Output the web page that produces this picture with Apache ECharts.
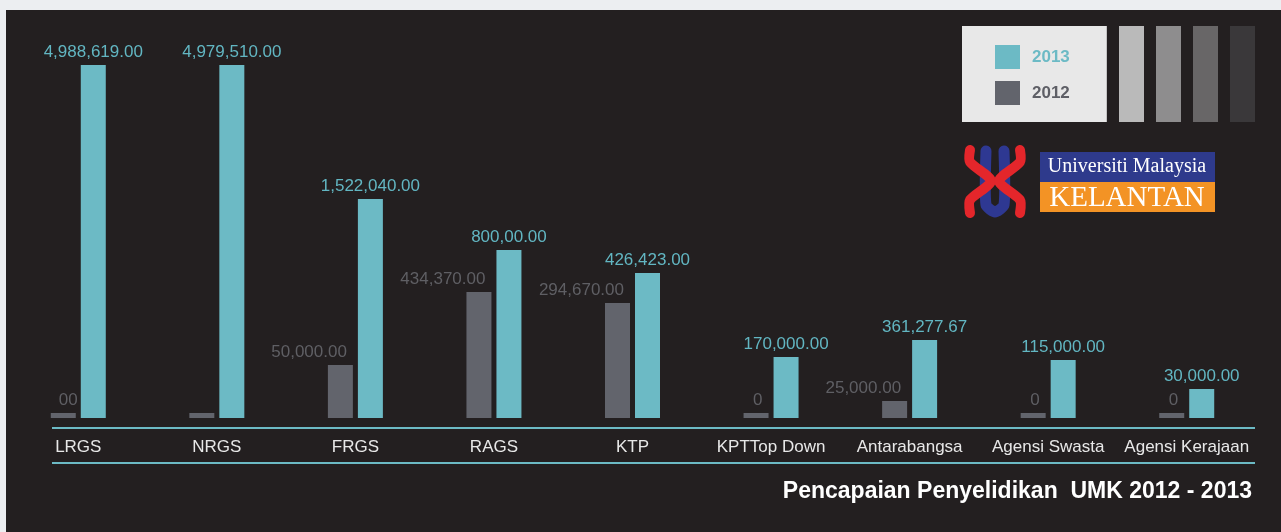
<!DOCTYPE html>
<html>
<head>
<meta charset="utf-8">
<script src="https://cdn.jsdelivr.net/npm/echarts@6/dist/echarts.min.js"></script>
<style>
  html, body { margin: 0; padding: 0; background: #eceef1; }
  #chart { width: 1281px; height: 532px; }
</style>
</head>
<body>
<div id="chart"></div>
<script>
const categories = ['LRGS', 'NRGS', 'FRGS', 'RAGS', 'KTP', 'KPTTop Down', 'Antarabangsa', 'Agensi Swasta', 'Agensi Kerajaan']

// amounts as printed on the picture (RM)
const label2013 = ['4,988,619.00', '4,979,510.00', '1,522,040.00', '800,00.00', '426,423.00', '170,000.00', '361,277.67', '115,000.00', '30,000.00']
const label2012 = ['00', '', '50,000.00', '434,370.00', '294,670.00', '0', '25,000.00', '0', '0']

// bar heights as drawn in the picture (the original is not to scale)
const bar2013 = [353, 353, 219, 168, 145, 61, 78, 58, 29]
const bar2012 = [5, 5, 53, 126, 115, 5, 17, 5, 5]

const teal = '#6cbac5'
const grey = '#62646c'

const chart = echarts.init(document.getElementById('chart'))

const option = {
  backgroundColor: '#eceef1',
  animation: false,
  title: {
    text: 'Pencapaian Penyelidikan  UMK 2012 - 2013',
    right: 29,
    top: 480,
    padding: 0,
    textStyle: { color: '#ffffff', fontSize: 23, fontWeight: 'bold', fontFamily: 'Liberation Sans, Arial, sans-serif' }
  },
  legend: {
    orient: 'vertical',
    left: 962,
    top: 26,
    backgroundColor: '#e8e8e8',
    padding: [19, 37, 17, 33],
    itemWidth: 25,
    itemHeight: 24,
    itemGap: 12,
    icon: 'rect',
    selectedMode: false,
    textStyle: { fontSize: 17, fontWeight: 'bold', fontFamily: 'Liberation Sans, Arial, sans-serif', padding: [0, 0, 0, 7] },
    data: [
      { name: '2013', textStyle: { color: teal } },
      { name: '2012', textStyle: { color: '#5e5f66' } }
    ]
  },
  grid: { left: 9, right: 25, top: 18, bottom: 114 },
  xAxis: {
    type: 'category',
    data: categories,
    axisLine: { show: false },
    axisTick: { show: false },
    axisLabel: {
      color: '#e8e8e8',
      fontSize: 17,
      fontFamily: 'Liberation Sans, Arial, sans-serif',
      margin: 21,
      interval: 0
    }
  },
  yAxis: {
    type: 'value',
    min: 0,
    max: 400,
    show: false,
    splitLine: { show: false }
  },
  graphic: [
    { type: 'rect', z: -10, silent: true, shape: { x: 6, y: 10, width: 1275, height: 522 }, style: { fill: '#231f20' } },
    { type: 'line', silent: true, shape: { x1: 52, y1: 428, x2: 1255, y2: 428 }, style: { stroke: teal, lineWidth: 2 } },
    { type: 'line', silent: true, shape: { x1: 52, y1: 463, x2: 1255, y2: 463 }, style: { stroke: teal, lineWidth: 2 } },
    // grey stripes next to the legend
    { type: 'rect', silent: true, shape: { x: 1119, y: 26, width: 25, height: 96 }, style: { fill: '#bababa' } },
    { type: 'rect', silent: true, shape: { x: 1156, y: 26, width: 25, height: 96 }, style: { fill: '#8e8d8e' } },
    { type: 'rect', silent: true, shape: { x: 1193, y: 26, width: 25, height: 96 }, style: { fill: '#686667' } },
    { type: 'rect', silent: true, shape: { x: 1230, y: 26, width: 25, height: 96 }, style: { fill: '#3a383a' } },
    // UMK logo
    { type: 'polyline', silent: true, shape: { points: [[986, 151], [986, 205], [995, 212], [1004, 205], [1004, 151]], smooth: 0.2 },
      style: { stroke: '#2e3892', lineWidth: 11, lineCap: 'round', lineJoin: 'round', fill: null } },
    { type: 'polyline', silent: true, shape: { points: [[970, 150], [970, 162], [991, 181], [970, 200], [970, 213]], smooth: 0.25 },
      style: { stroke: '#e4262b', lineWidth: 10, lineCap: 'round', lineJoin: 'round', fill: null } },
    { type: 'polyline', silent: true, shape: { points: [[1020, 150], [1020, 162], [999, 181], [1020, 200], [1020, 213]], smooth: 0.25 },
      style: { stroke: '#e4262b', lineWidth: 10, lineCap: 'round', lineJoin: 'round', fill: null } },
    { type: 'rect', silent: true, shape: { x: 1040, y: 152, width: 175, height: 30 }, style: { fill: '#2e3a8c' } },
    { type: 'rect', silent: true, shape: { x: 1040, y: 182, width: 175, height: 30 }, style: { fill: '#f39325' } },
    { type: 'text', silent: true, style: { text: 'Universiti Malaysia', x: 1127, y: 167, fill: '#ffffff',
      font: '20px "Liberation Serif", "Times New Roman", serif', textAlign: 'center', textVerticalAlign: 'middle' } },
    { type: 'text', silent: true, style: { text: 'KELANTAN', x: 1127, y: 198, fill: '#ffffff',
      font: '29px "Liberation Serif", "Times New Roman", serif', textAlign: 'center', textVerticalAlign: 'middle' } }
  ],
  series: [
    {
      name: '2012',
      type: 'bar',
      barWidth: 25,
      barGap: '20%',
      itemStyle: { color: grey },
      data: bar2012.map((v, i) => ({
        value: v,
        label: i === 0 ? { show: true, position: [27, -4] } : { show: label2012[i] !== '' }
      })),
      label: {
        show: true,
        position: [19, -4],
        align: 'right',
        verticalAlign: 'bottom',
        color: '#5f5f64',
        fontSize: 17,
        fontFamily: 'Liberation Sans, Arial, sans-serif',
        formatter: (p) => label2012[p.dataIndex]
      }
    },
    {
      name: '2013',
      type: 'bar',
      barWidth: 25,
      barGap: '20%',
      itemStyle: { color: teal },
      data: bar2013,
      label: {
        show: true,
        position: 'top',
        distance: 4,
        color: '#62b6c2',
        fontSize: 17,
        fontFamily: 'Liberation Sans, Arial, sans-serif',
        formatter: (p) => label2013[p.dataIndex]
      }
    }
  ]
}

chart.setOption(option)
window.addEventListener('resize', () => chart.resize())
</script>
</body>
</html>
